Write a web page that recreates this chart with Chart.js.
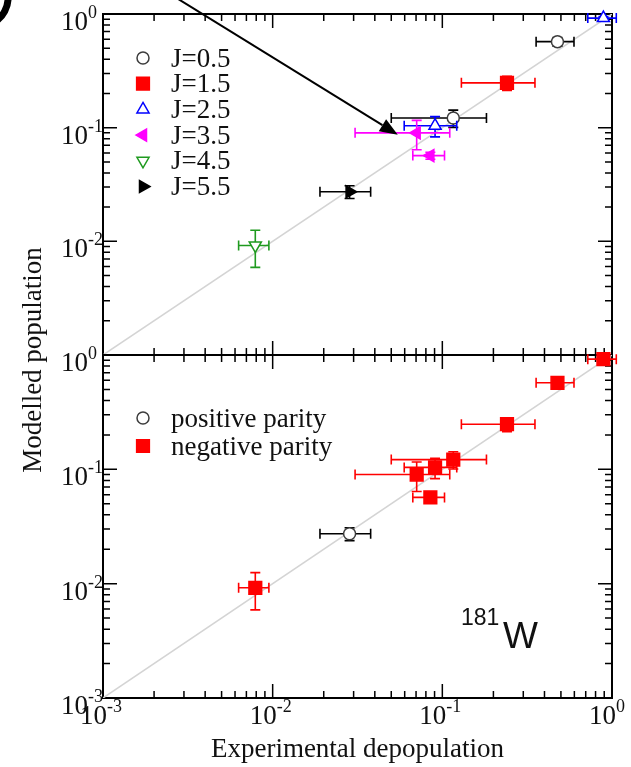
<!DOCTYPE html>
<html>
<head>
<meta charset="utf-8">
<script src="https://cdn.jsdelivr.net/npm/chart.js@4.4.1/dist/chart.umd.min.js"></script>
<style>
html, body { margin: 0; padding: 0; background: #fff; }
#wrap { position: relative; width: 631px; height: 767px; overflow: hidden; }
#wrap canvas { position: absolute; left: 0; top: 0; }
</style>
</head>
<body>
<div id="wrap">
  <canvas id="spinChart" width="631" height="767"></canvas>
  <canvas id="parityChart" width="631" height="767"></canvas>
</div>
<script>
// 181W levels: experimental depopulation against modelled population
var levelSpin = ['J=0.5', 'J=0.5', 'J=1.5', 'J=2.5', 'J=2.5', 'J=3.5', 'J=3.5', 'J=4.5', 'J=5.5'];
var levelParity = ['-', '-', '-', '-', '-', '-', '-', '-', '+'];
var expDepop = [0.477, 0.116, 0.2405, 0.0906, 0.89, 0.0706, 0.085, 0.0079, 0.0284];
var expDepopErr = [0.12, 0.066, 0.111, 0.031, 0.17, 0.04, 0.018, 0.0016, 0.0094];
var modelPop = [0.571, 0.1216, 0.248, 0.104, 0.92, 0.09, 0.0568, 0.0092, 0.0273];
var modelPopErr = [0.05, 0.021, 0.035, 0.021, 0.03, 0.026, 0.004, 0.0033, 0.0035];

var spinLabels = ['J=0.5', 'J=1.5', 'J=2.5', 'J=3.5', 'J=4.5', 'J=5.5'];
var parityKeys = ['+', '-'];
var parityLabels = ['positive parity', 'negative parity'];
var decadeTicks = [0.001, 0.01, 0.1, 1];
var unityLine = [0.001, 1];
var arrowTail = [0.00254, 1.47];
var arrowTip = [0.0546, 0.0868];

var spinStyles = {
    'J=0.5': { shape: 'circle', rot: 0, line: '#3c3c3c', fill: '#fff', bar: '#000', r: 6 },
    'J=1.5': { shape: 'rect', rot: 0, line: '#ff0000', fill: '#ff0000', bar: '#ff0000', r: 9 },
    'J=2.5': { shape: 'triangle', rot: 0, line: '#0000ff', fill: '#fff', bar: '#0000ff', r: 7 },
    'J=3.5': { shape: 'triangle', rot: -90, line: '#ff00ff', fill: '#ff00ff', bar: '#ff00ff', r: 7 },
    'J=4.5': { shape: 'triangle', rot: 180, line: '#1f9a1f', fill: '#fff', bar: '#1f9a1f', r: 7 },
    'J=5.5': { shape: 'triangle', rot: 90, line: '#000', fill: '#000', bar: '#000', r: 7 }
};
var parityStyles = {
    '+': { shape: 'circle', rot: 0, line: '#3c3c3c', fill: '#fff', bar: '#000', r: 6 },
    '-': { shape: 'rect', rot: 0, line: '#ff0000', fill: '#ff0000', bar: '#ff0000', r: 9 }
};

var SERIF = '"Liberation Serif", "Times New Roman", serif';
var SANS = '"Liberation Sans", Arial, sans-serif';

function pointsWhere(keys, key) {
    var pts = [];
    keys.forEach(function (k, i) {
        if (k === key) {
            pts.push({ x: expDepop[i], y: modelPop[i], xErr: expDepopErr[i], yErr: modelPopErr[i] });
        }
    });
    return pts;
}

function makeDataset(label, pts, st, idx) {
    return {
        label: label,
        data: pts,
        pointStyle: st.shape,
        pointRotation: st.rot,
        pointRadius: st.r,
        pointBorderColor: st.line,
        pointBackgroundColor: st.fill,
        pointBorderWidth: 1.5,
        barColor: st.bar,
        showLine: false,
        clip: false,
        order: -idx
    };
}

function diagonalDataset() {
    return {
        type: 'line',
        data: [{ x: unityLine[0], y: unityLine[0] }, { x: unityLine[1], y: unityLine[1] }],
        borderColor: '#d4d4d4',
        borderWidth: 1.5,
        pointRadius: 0,
        order: 10
    };
}

// error bars go right under each dataset's own symbols
var errorBars = {
    id: 'errorBars',
    beforeDatasetDraw: function (chart, args) {
        var ds = chart.data.datasets[args.index];
        if (!ds.barColor) return;
        var xs = chart.scales.x, ys = chart.scales.y, ctx = chart.ctx;
        var cap = 5;
        ctx.save();
        ctx.strokeStyle = ds.barColor;
        ctx.lineWidth = 1.6;
        ds.data.forEach(function (p) {
            var px = xs.getPixelForValue(p.x), py = ys.getPixelForValue(p.y);
            var x0 = xs.getPixelForValue(p.x - p.xErr), x1 = xs.getPixelForValue(p.x + p.xErr);
            var y0 = ys.getPixelForValue(p.y - p.yErr), y1 = ys.getPixelForValue(p.y + p.yErr);
            ctx.beginPath();
            ctx.moveTo(x0, py); ctx.lineTo(x1, py);
            ctx.moveTo(x0, py - cap); ctx.lineTo(x0, py + cap);
            ctx.moveTo(x1, py - cap); ctx.lineTo(x1, py + cap);
            ctx.moveTo(px, y0); ctx.lineTo(px, y1);
            ctx.moveTo(px - cap, y0); ctx.lineTo(px + cap, y0);
            ctx.moveTo(px - cap, y1); ctx.lineTo(px + cap, y1);
            ctx.stroke();
        });
        ctx.restore();
    }
};

function drawFrame(chart) {
    var a = chart.chartArea, xs = chart.scales.x, ys = chart.scales.y, ctx = chart.ctx;
    var major = 14, minor = 7;
    ctx.save();
    ctx.strokeStyle = '#000';
    ctx.lineWidth = 1.5;
    ctx.beginPath();
    decadeTicks.forEach(function (d, i) {
        var list = [[d, major]];
        if (i < decadeTicks.length - 1) {
            for (var m = 2; m <= 9; m++) list.push([m * d, minor]);
        }
        list.forEach(function (t) {
            var px = xs.getPixelForValue(t[0]);
            var py = ys.getPixelForValue(t[0]);
            ctx.moveTo(px, a.bottom); ctx.lineTo(px, a.bottom - t[1]);
            ctx.moveTo(px, a.top); ctx.lineTo(px, a.top + t[1]);
            ctx.moveTo(a.left, py); ctx.lineTo(a.left + t[1], py);
            ctx.moveTo(a.right, py); ctx.lineTo(a.right - t[1], py);
        });
    });
    ctx.stroke();
    ctx.lineWidth = 2;
    ctx.strokeRect(a.left, a.top, a.right - a.left, a.bottom - a.top);
    ctx.restore();
}

function drawPower(ctx, value, anchorX, baseY, supY) {
    var e = Math.round(Math.log10(value));
    ctx.fillStyle = '#111';
    ctx.textBaseline = 'alphabetic';
    ctx.font = '27px ' + SERIF;
    ctx.textAlign = 'right';
    ctx.fillText('10', anchorX, baseY);
    ctx.font = '18px ' + SERIF;
    ctx.textAlign = 'left';
    ctx.fillText(String(e), anchorX, supY);
}

function drawTickLabels(chart, yValues, withX) {
    var a = chart.chartArea, ctx = chart.ctx;
    ctx.save();
    yValues.forEach(function (v) {
        var py = chart.scales.y.getPixelForValue(v);
        drawPower(ctx, v, a.left - 15, py + 16, py + 4);
    });
    if (withX) {
        decadeTicks.forEach(function (v) {
            var px = chart.scales.x.getPixelForValue(v);
            drawPower(ctx, v, px + 4, a.bottom + 26, a.bottom + 14);
        });
    }
    ctx.restore();
}

function drawLegend(chart, keys, labels, styles, offY, step) {
    var a = chart.chartArea, ctx = chart.ctx;
    ctx.save();
    keys.forEach(function (k, i) {
        var st = styles[k];
        var x = a.left + 40, y = a.top + offY + i * step;
        ctx.fillStyle = st.fill;
        ctx.strokeStyle = st.line;
        ctx.lineWidth = 1.5;
        Chart.helpers.drawPoint(ctx, { pointStyle: st.shape, rotation: st.rot, radius: st.r, borderWidth: 1.5 }, x, y);
        ctx.fillStyle = '#111';
        ctx.font = '27px ' + SERIF;
        ctx.textAlign = 'left';
        ctx.textBaseline = 'alphabetic';
        ctx.fillText(labels[i], a.left + 68, y + 8.5);
    });
    ctx.restore();
}

var spinDecor = {
    id: 'spinDecor',
    beforeDatasetsDraw: function (chart) {
        drawFrame(chart);
        drawTickLabels(chart, [1, 0.1, 0.01], false);
    },
    afterDraw: function (chart) {
        var ctx = chart.ctx, xs = chart.scales.x, ys = chart.scales.y;
        drawLegend(chart, spinLabels, spinLabels, spinStyles, 44, 25.7);

        // pointer arrow coming in from above the frame
        var x0 = xs.getPixelForValue(arrowTail[0]), y0 = ys.getPixelForValue(arrowTail[1]);
        var x1 = xs.getPixelForValue(arrowTip[0]), y1 = ys.getPixelForValue(arrowTip[1]);
        var ang = Math.atan2(y1 - y0, x1 - x0), len = 18, half = 7;
        var bx = x1 - len * Math.cos(ang), by = y1 - len * Math.sin(ang);
        ctx.save();
        ctx.strokeStyle = '#000';
        ctx.fillStyle = '#000';
        ctx.lineWidth = 2;
        ctx.beginPath();
        ctx.moveTo(x0, y0);
        ctx.lineTo(bx, by);
        ctx.stroke();
        ctx.beginPath();
        ctx.moveTo(x1, y1);
        ctx.lineTo(bx + half * Math.sin(ang), by - half * Math.cos(ang));
        ctx.lineTo(bx - half * Math.sin(ang), by + half * Math.cos(ang));
        ctx.closePath();
        ctx.fill();

        // edge of a dark mark cut by the top-left corner
        ctx.lineWidth = 7;
        ctx.beginPath();
        ctx.arc(-20, -2, 28, -0.3, 1.3);
        ctx.stroke();
        ctx.restore();
    }
};

var parityDecor = {
    id: 'parityDecor',
    beforeDatasetsDraw: function (chart) {
        drawFrame(chart);
        drawTickLabels(chart, decadeTicks, true);
    },
    afterDraw: function (chart) {
        var ctx = chart.ctx, a = chart.chartArea;
        drawLegend(chart, parityKeys, parityLabels, parityStyles, 63, 28);
        ctx.save();
        ctx.fillStyle = '#111';
        ctx.textBaseline = 'alphabetic';
        ctx.font = '23px ' + SANS;
        ctx.textAlign = 'left';
        ctx.fillText('181', 461, 625);
        ctx.font = '37px ' + SANS;
        ctx.fillText('W', 503, 648);

        ctx.font = '27px ' + SERIF;
        ctx.textAlign = 'center';
        ctx.fillText('Experimental depopulation', (a.left + a.right) / 2, 757);
        ctx.translate(41, 360);
        ctx.rotate(-Math.PI / 2);
        ctx.fillText('Modelled population', 0, 0);
        ctx.restore();
    }
};

function buildChart(id, datasets, decor, pad) {
    return new Chart(document.getElementById(id), {
        type: 'scatter',
        data: { datasets: datasets },
        options: {
            responsive: false,
            animation: false,
            devicePixelRatio: 1,
            events: [],
            layout: { padding: pad },
            plugins: { legend: { display: false }, tooltip: { enabled: false } },
            scales: {
                x: { type: 'logarithmic', min: decadeTicks[0], max: decadeTicks[3], display: false },
                y: { type: 'logarithmic', min: decadeTicks[0], max: decadeTicks[3], display: false }
            }
        },
        plugins: [errorBars, decor]
    });
}

var spinSets = [diagonalDataset()];
spinLabels.forEach(function (lab, i) {
    spinSets.push(makeDataset(lab, pointsWhere(levelSpin, lab), spinStyles[lab], i));
});

var paritySets = [diagonalDataset()];
parityKeys.forEach(function (k, i) {
    paritySets.push(makeDataset(parityLabels[i], pointsWhere(levelParity, k), parityStyles[k], i));
});

buildChart('spinChart', spinSets, spinDecor, { left: 103, right: 19, top: 14, bottom: 412 });
buildChart('parityChart', paritySets, parityDecor, { left: 103, right: 19, top: 355, bottom: 69 });
</script>
</body>
</html>
